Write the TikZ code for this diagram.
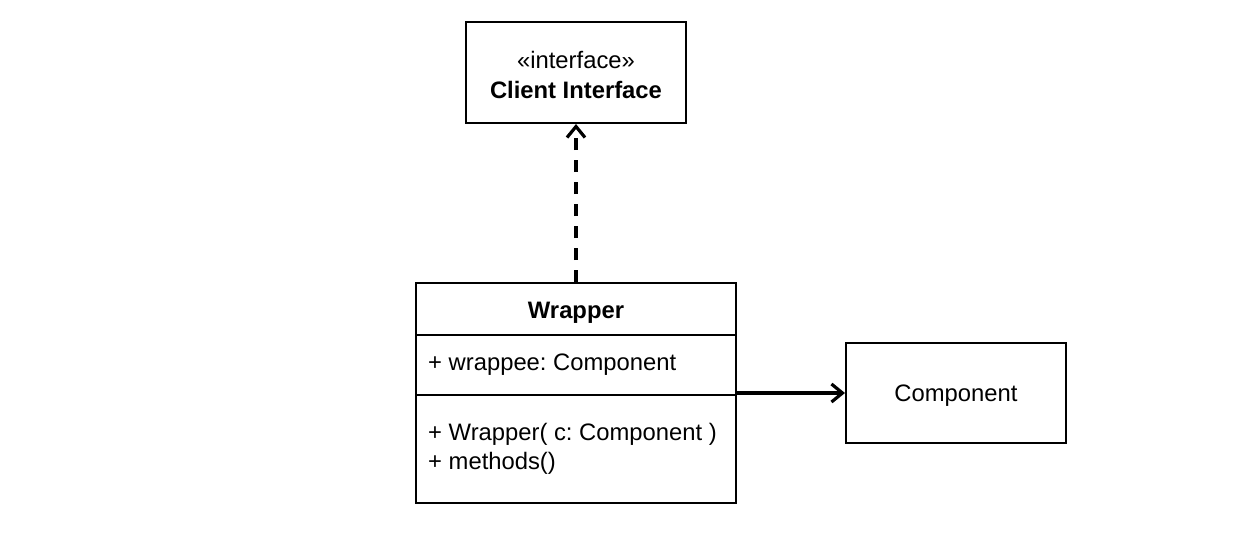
\documentclass[tikz,border=0pt]{standalone}
\usepackage{fontspec}
\setmainfont{Liberation Sans}
\usetikzlibrary{arrows.meta,calc}
\begin{document}
\frenchspacing
\begin{tikzpicture}[x=1pt,y=-1pt,
  box/.style={draw=black,line width=2pt,fill=white,inner sep=0pt},
  txt/.style={inner sep=0pt,font=\fontsize{23.8}{28}\selectfont},
  btxt/.style={inner sep=0pt,font=\fontsize{23.8}{28}\selectfont\bfseries},
  conn/.style={line width=3.2pt,-{Straight Barb[length=11pt,width=18pt,line width=3.2pt]}},
  div/.style={line width=2pt}]
\useasboundingbox (0,0) rectangle (1244,542);
\node[box,minimum width=220pt,minimum height=101pt] (client) at (576,72.5) {};
\node[txt] (stereo) at (576,60) {«interface»};
\node[btxt] (cname) at (576,89.5) {Client Interface};
\node[box,minimum width=320pt,minimum height=220pt] (wrapper) at (576,393) {};
\coordinate (d1l) at (416,335); \coordinate (d1r) at (736,335);
\coordinate (d2l) at (416,395); \coordinate (d2r) at (736,395);
\draw[div] (d1l) -- (d1r);
\draw[div] (d2l) -- (d2r);
\node[btxt] (wname) at (576,313) {Wrapper};
\node[txt,anchor=west] (field) at (428,365) {+ wrappee: Component};
\node[txt,anchor=west] (m1) at (428,434) {+ Wrapper( c: Component )};
\node[txt,anchor=west] (m2) at (428,463) {+ methods()};
\node[box,minimum width=220pt,minimum height=100pt] (comp) at (956,393) {};
\node[txt] (compname) at (956,396) {Component};
\coordinate (wout) at (736,393);
\coordinate (cin) at (845,393);
\draw[conn] (wout) -- (cin);
\draw[conn,dash pattern=on 12pt off 10pt] (wrapper.north) -- (client.south);
\end{tikzpicture}
\end{document}
